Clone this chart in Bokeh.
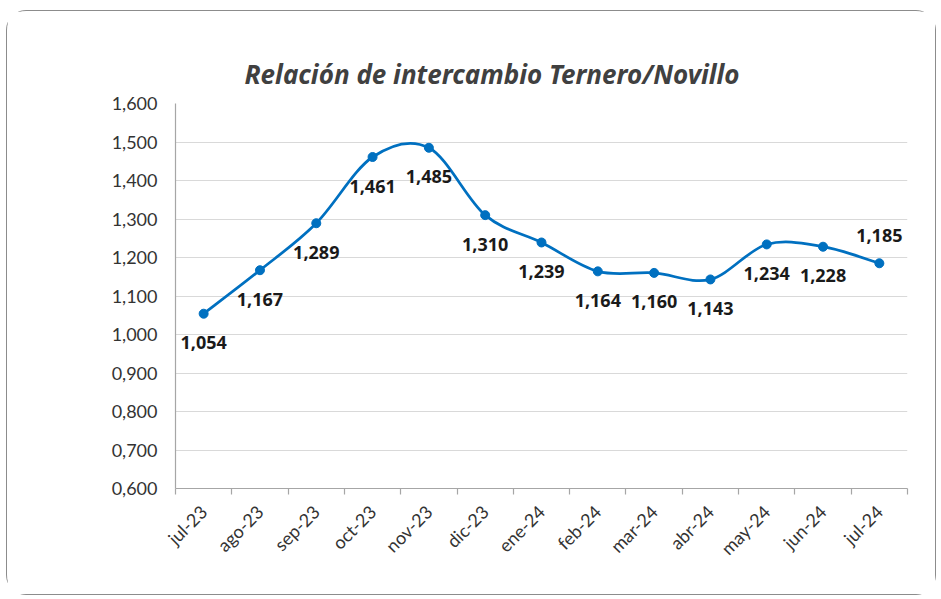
import numpy as np
from bokeh.plotting import figure
from bokeh.models import (ColumnDataSource, FixedTicker, CustomJSTickFormatter,
                          Range1d, LabelSet)
from bokeh.core.properties import value
from bokeh.embed import file_html
from bokeh.resources import INLINE
from math import pi

# ---- data ----
months = ["jul-23", "ago-23", "sep-23", "oct-23", "nov-23", "dic-23", "ene-24",
          "feb-24", "mar-24", "abr-24", "may-24", "jun-24", "jul-24"]
ratio = [1.054, 1.167, 1.289, 1.461, 1.485, 1.310, 1.239,
         1.164, 1.160, 1.143, 1.234, 1.228, 1.185]
label_text = ["1,054", "1,167", "1,289", "1,461", "1,485", "1,310", "1,239",
              "1,164", "1,160", "1,143", "1,234", "1,228", "1,185"]
label_above = [False] * 12 + [True]
y_ticks = [0.6, 0.7, 0.8, 0.9, 1.0, 1.1, 1.2, 1.3, 1.4, 1.5, 1.6]
title_text = "Relación de intercambio Ternero/Novillo"

FONT = "Lato"
BOLD_FONT = "Noto Sans"
LINE_COLOR = "#0070C0"

xs = np.arange(len(months), dtype=float)
ys = np.array(ratio)

# smooth (Catmull-Rom style Bezier) segments built from the data points
px = np.concatenate([[xs[0]], xs, [xs[-1]]])
py = np.concatenate([[ys[0]], ys, [ys[-1]]])
n = len(xs)
x0 = xs[:-1]; y0 = ys[:-1]; x1 = xs[1:]; y1 = ys[1:]
cx0 = xs[:-1] + (px[2:n + 1] - px[0:n - 1]) / 6.0
cy0 = ys[:-1] + (py[2:n + 1] - py[0:n - 1]) / 6.0
cx1 = xs[1:] - (px[3:n + 2] - px[1:n]) / 6.0
cy1 = ys[1:] - (py[3:n + 2] - py[1:n]) / 6.0

p = figure(width=930, height=585, output_backend="svg", toolbar_location=None,
           x_range=Range1d(-0.5, 12.5), y_range=Range1d(0.6, 1.6),
           min_border_left=168, min_border_right=30, min_border_top=92,
           min_border_bottom=108)
p.styles = {"border": "1.5px solid #8c8c8c", "border-radius": "20px",
            "margin": "10px 0px 0px 6px"}
p.outline_line_color = None
p.background_fill_color = "white"
p.border_fill_color = "white"

# title
p.title.text = title_text
p.title.align = "left"
p.title.offset = 69
p.title.text_font = BOLD_FONT
p.title.text_font_style = "bold italic"
p.title.text_font_size = "26px"
p.title.text_color = "#404040"
p.title.standoff = 23

# grid
p.xgrid.grid_line_color = None
p.ygrid.grid_line_color = "#d9d9d9"
p.ygrid.grid_line_width = 1.2

# y axis
p.yaxis.ticker = FixedTicker(ticks=y_ticks)
p.yaxis.formatter = CustomJSTickFormatter(code="return tick.toFixed(3).replace('.', ',');")
p.yaxis.axis_line_color = "#a6a6a6"
p.yaxis.axis_line_width = 1.2
p.yaxis.major_tick_out = 0
p.yaxis.major_tick_in = 0
p.yaxis.minor_tick_line_color = None
p.yaxis.major_label_standoff = 18
p.yaxis.major_label_text_font = FONT
p.yaxis.major_label_text_font_size = "18px"
p.yaxis.major_label_text_color = "#333333"

# x axis
p.xaxis.ticker = FixedTicker(ticks=list(xs), minor_ticks=list(np.arange(-0.5, 13.0, 1.0)))
p.xaxis.major_label_overrides = {float(i): m for i, m in enumerate(months)}
p.xaxis.major_label_orientation = pi / 4
p.xaxis.axis_line_color = "#a6a6a6"
p.xaxis.axis_line_width = 1.2
p.xaxis.major_tick_out = 0
p.xaxis.major_tick_in = 0
p.xaxis.minor_tick_out = 6
p.xaxis.minor_tick_in = 0
p.xaxis.minor_tick_line_color = "#a6a6a6"
p.xaxis.minor_tick_line_width = 1.2
p.xaxis.major_label_standoff = 14
p.xaxis.major_label_text_font = FONT
p.xaxis.major_label_text_font_size = "18px"
p.xaxis.major_label_text_color = "#333333"

# smooth line
p.bezier(x0=x0, y0=y0, x1=x1, y1=y1, cx0=cx0, cy0=cy0, cx1=cx1, cy1=cy1,
         line_color=LINE_COLOR, line_width=2.75)
p.scatter(xs, ys, size=9, fill_color=LINE_COLOR, line_color=LINE_COLOR)

# data labels
below_idx = [i for i in range(n) if not label_above[i]]
above_idx = [i for i in range(n) if label_above[i]]
src_below = ColumnDataSource(dict(x=[xs[i] for i in below_idx], y=[ys[i] for i in below_idx],
                                  t=[label_text[i] for i in below_idx]))
src_above = ColumnDataSource(dict(x=[xs[i] for i in above_idx], y=[ys[i] for i in above_idx],
                                  t=[label_text[i] for i in above_idx]))
for src, off in ((src_below, -29), (src_above, 28)):
    p.add_layout(LabelSet(x="x", y="y", text="t", source=src, y_offset=off,
                          text_align="center", text_baseline="middle",
                          text_font=value(BOLD_FONT), text_font_style="bold",
                          text_font_size="18px", text_color="#1a1a1a"))

open("out.html", "w").write(file_html(p, INLINE))
